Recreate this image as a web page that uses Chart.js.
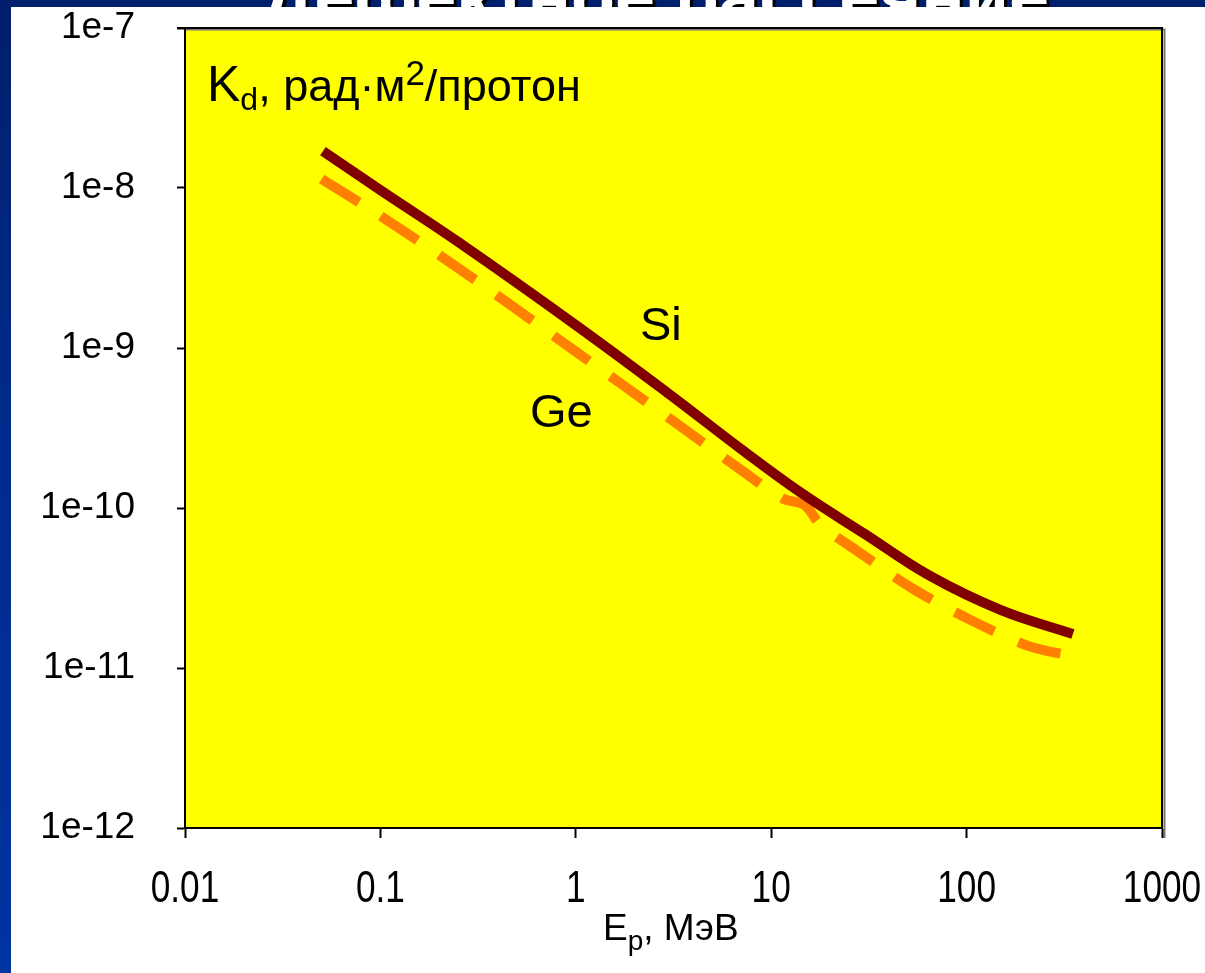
<!DOCTYPE html>
<html lang="ru">
<head>
<meta charset="utf-8">
<title>Kd(Ep)</title>
<script src="https://cdn.jsdelivr.net/npm/chart.js@4.4.1/dist/chart.umd.min.js"></script>
<style>
  html, body { margin: 0; padding: 0; }
  body {
    width: 1205px; height: 973px; overflow: hidden; position: relative;
    background: linear-gradient(180deg, #001f6c 0%, #002b8c 45%, #0034a2 100%);
  }
  #title {
    position: absolute; left: 262px; top: -44px; line-height: 64px;
    font: bold 72px 'Liberation Sans', Arial, sans-serif;
    color: #fff; white-space: nowrap;
    text-shadow: 3px 3px 1px #000;
  }
  #panel { position: absolute; left: 11px; top: 7px; right: 0; bottom: 0; background: #fff; }
  #chart { position: absolute; left: 0; top: 0; }
</style>
</head>
<body>
<div id="title">Дефектное рассеяние</div>
<div id="panel"></div>
<canvas id="chart" width="1205" height="973"></canvas>
<script>
// Kd vs proton energy, Si and Ge
const energySi = [0.0508, 0.1, 0.25, 1, 3, 7, 14, 30, 65, 150, 350];
const kdSi     = [1.7e-8, 9.7e-9, 4.6e-9, 1.39e-9, 5.16e-10, 2.34e-10, 1.26e-10, 6.9e-11, 3.76e-11, 2.3e-11, 1.63e-11];

const energyGe = [0.05, 0.1, 0.25, 1, 3, 7, 11.4, 14.9, 17.8, 27.5, 53.8, 107, 208, 342];
const kdGe     = [1.14e-8, 6.7e-9, 3.16e-9, 9.5e-10, 3.65e-10, 1.73e-10, 1.15e-10, 1.04e-10, 7.9e-11, 5.4e-11, 3.1e-11, 1.97e-11, 1.37e-11, 1.19e-11];

const xTicks = [0.01, 0.1, 1, 10, 100, 1000];
const xTickLabels = ['0.01', '0.1', '1', '10', '100', '1000'];
const yTicks = [1e-12, 1e-11, 1e-10, 1e-9, 1e-8, 1e-7];
const yTickLabels = ['1e-12', '1e-11', '1e-10', '1e-9', '1e-8', '1e-7'];

// wanted plot box on the page
const box = { left: 185, top: 28, right: 1162, bottom: 828 };

const sans = "'Liberation Sans', Arial, sans-serif";

function pairs(xs, ys) {
  return xs.map((x, i) => ({ x: x, y: ys[i] }));
}

// draw a run of text pieces: [text, fontSize, dy]
function drawRun(ctx, x, y, parts, family) {
  parts.forEach(p => {
    ctx.font = p[1] + 'px ' + family;
    ctx.fillText(p[0], x, y + (p[2] || 0));
    x += ctx.measureText(p[0]).width;
  });
}

// yellow plot area + frame lines on top and right
const plotFrame = {
  id: 'plotFrame',
  beforeDraw(chart) {
    const { ctx, chartArea: a } = chart;
    ctx.save();
    ctx.fillStyle = '#ffff00';
    ctx.fillRect(a.left, a.top, a.right - a.left, a.bottom - a.top);
    ctx.strokeStyle = '#777';
    ctx.lineWidth = 2;
    ctx.beginPath();
    ctx.moveTo(a.left, a.top + 1.5);
    ctx.lineTo(a.right + 2.5, a.top + 1.5);
    ctx.lineTo(a.right + 2.5, a.bottom + 10);
    ctx.stroke();
    ctx.strokeStyle = '#000';
    ctx.beginPath();
    ctx.moveTo(a.left - 8, a.top);
    ctx.lineTo(a.right, a.top);
    ctx.lineTo(a.right, a.bottom);
    ctx.stroke();
    ctx.restore();
  }
};

// condensed x tick labels, axis captions and curve names
const captions = {
  id: 'captions',
  afterDraw(chart) {
    const ctx = chart.ctx;
    const xs = chart.scales.x;
    ctx.save();
    ctx.fillStyle = '#000';
    ctx.textBaseline = 'alphabetic';
    ctx.textAlign = 'center';
    ctx.font = '44px ' + sans;
    xTicks.forEach((v, i) => {
      ctx.save();
      ctx.translate(xs.getPixelForValue(v), 902);
      ctx.scale(0.8, 1);
      ctx.fillText(xTickLabels[i], 0, 0);
      ctx.restore();
    });
    ctx.textAlign = 'left';
    drawRun(ctx, 207, 101, [['K', 50], ['d', 32, 9], [', рад·м', 45], ['2', 35, -16], ['/протон', 45]], sans);
    drawRun(ctx, 603, 940, [['E', 37], ['p', 28, 10], [', МэВ', 37]], sans);
    ctx.font = '47px ' + sans;
    ctx.fillText('Si', 640, 340);
    ctx.fillText('Ge', 530, 427);
    ctx.restore();
  }
};

const chart = new Chart(document.getElementById('chart'), {
  type: 'line',
  data: {
    datasets: [{
      label: 'Si',
      data: pairs(energySi, kdSi),
      borderColor: '#800000',
      borderWidth: 10,
      pointRadius: 0,
      tension: 0.4,
      fill: false
    }, {
      label: 'Ge',
      data: pairs(energyGe, kdGe),
      borderColor: '#ff8000',
      borderWidth: 10,
      borderDash: [44, 26],
      borderCapStyle: 'butt',
      pointRadius: 0,
      tension: 0.3,
      fill: false
    }]
  },
  options: {
    responsive: false,
    devicePixelRatio: 1,
    animation: false,
    layout: { padding: { top: box.top, right: 1205 - box.right, left: 0, bottom: 0 } },
    plugins: { legend: { display: false }, tooltip: { enabled: false } },
    scales: {
      x: {
        type: 'logarithmic',
        min: 0.01, max: 1000,
        afterBuildTicks: s => { s.ticks = xTicks.map(v => ({ value: v })); },
        afterFit: s => { s.height = 973 - box.bottom; },
        grid: { drawOnChartArea: false, drawTicks: true, tickLength: 10, tickColor: '#000', tickWidth: 2 },
        border: { display: true, color: '#000', width: 2 },
        ticks: { display: false, autoSkip: false }
      },
      y: {
        type: 'logarithmic',
        min: 1e-12, max: 1e-7,
        afterBuildTicks: s => { s.ticks = yTicks.map(v => ({ value: v })); },
        // tick padding would otherwise push the plot top down
        afterFit: s => { s.width = box.left; s.paddingTop = 0; s.paddingBottom = 0; },
        grid: { drawOnChartArea: false, drawTicks: true, tickLength: 8, tickColor: '#000', tickWidth: 2 },
        border: { display: true, color: '#000', width: 2 },
        ticks: {
          color: '#000',
          font: { family: sans, size: 37 },
          padding: 42,
          autoSkip: false,
          callback: (v, i) => yTickLabels[i]
        }
      }
    }
  },
  plugins: [plotFrame, captions]
});

// pull the plot box back to where it belongs after label overflow padding
for (let k = 0; k < 3; k++) {
  const a = chart.chartArea;
  const p = chart.options.layout.padding;
  p.top += box.top - a.top;
  p.right += a.right - box.right;
  chart.update();
}
</script>
</body>
</html>
